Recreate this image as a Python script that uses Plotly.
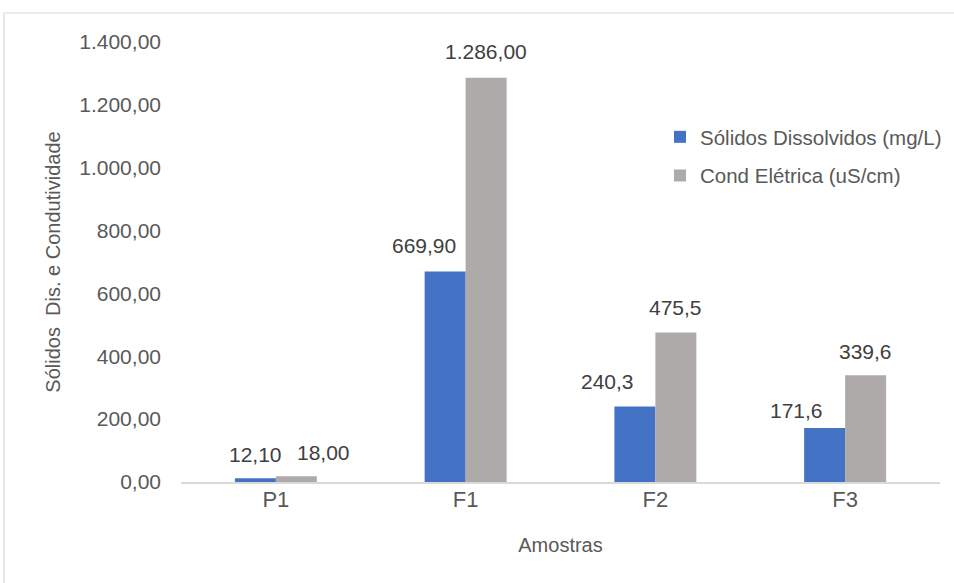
import plotly.graph_objects as go

# Data
amostras = ["P1", "F1", "F2", "F3"]
solidos = [12.10, 669.90, 240.3, 171.6]
condutividade = [18.00, 1286.00, 475.5, 339.6]
casas_decimais = [2, 2, 1, 1]
y_ticks = [0, 200, 400, 600, 800, 1000, 1200, 1400]

AZUL = "#4472C4"
CINZA = "#AEAAAA"
TEXTO = "#595959"
ROTULO = "#404040"

W, H = 954, 583
ML, MR, MT, MB = 181, 14, 42, 101


def fmt_br(v, casas):
    s = f"{v:,.{casas}f}"
    return s.replace(",", "X").replace(".", ",").replace("X", ".")


fig = go.Figure()
fig.add_trace(go.Bar(x=amostras, y=solidos, name="Sólidos Dissolvidos (mg/L)",
                     marker=dict(color=AZUL, line=dict(width=0)),
                     legendgroup="a", hoverinfo="x+y"))
fig.add_trace(go.Bar(x=amostras, y=condutividade, name="Cond Elétrica (uS/cm)",
                     marker=dict(color=CINZA, line=dict(width=0)),
                     legendgroup="b", hoverinfo="x+y"))

# data labels: (extra x nudge in px, height of label centre above bar top)
desloc_sol = [(0, 24), (-21, 26), (-27, 25), (-28, 18)]
desloc_cond = [(27, 24), (0, 26), (0, 25), (0, 24)]
meia_barra = 20.5
anots = []
for i, cat in enumerate(amostras):
    dx, dy = desloc_sol[i]
    anots.append(dict(x=cat, y=solidos[i], text=fmt_br(solidos[i], casas_decimais[i]),
                      xshift=-meia_barra + dx, yshift=dy, showarrow=False,
                      xanchor="center", yanchor="middle",
                      font=dict(family="Liberation Sans", size=21, color=ROTULO)))
    dx, dy = desloc_cond[i]
    anots.append(dict(x=cat, y=condutividade[i], text=fmt_br(condutividade[i], casas_decimais[i]),
                      xshift=meia_barra + dx, yshift=dy, showarrow=False,
                      xanchor="center", yanchor="middle",
                      font=dict(family="Liberation Sans", size=21, color=ROTULO)))

pw = W - ML - MR
ph = H - MT - MB
moldura = dict(type="rect", xref="paper", yref="paper", layer="below",
               x0=(4 - ML) / pw, x1=(W + 10 - ML) / pw,
               y0=-(H + 10 - (H - MB)) / ph, y1=((H - MB) - 13) / ph,
               line=dict(color="#D9D9D9", width=1.2), fillcolor="rgba(0,0,0,0)")

fig.update_layout(
    width=W, height=H,
    margin=dict(l=ML, r=MR, t=MT, b=MB, autoexpand=False),
    paper_bgcolor="white", plot_bgcolor="white",
    separators=",.",
    barmode="group", bargap=0.568, bargroupgap=0,
    font=dict(family="Liberation Sans", color=TEXTO),
    annotations=anots,
    shapes=[moldura],
    legend=dict(x=(660 - ML) / pw, y=((H - MB) - 117) / ph, xanchor="left", yanchor="top",
                font=dict(family="Liberation Sans", size=20.5, color=TEXTO),
                tracegroupgap=9, traceorder="grouped", bgcolor="rgba(0,0,0,0)"),
    xaxis=dict(showline=True, linecolor="#D9D9D9", linewidth=1.5, showgrid=False,
               ticks="", ticklabelstandoff=-3,
               tickfont=dict(family="Liberation Sans", size=22, color=TEXTO),
               title=dict(text="Amostras", standoff=27,
                          font=dict(family="Liberation Sans", size=20, color=TEXTO))),
    yaxis=dict(range=[0, 1400], tickvals=y_ticks, tickformat=",.2f", showgrid=False,
               zeroline=False, showline=False, ticks="", ticklabelstandoff=19,
               tickfont=dict(family="Liberation Sans", size=21, color=TEXTO),
               title=dict(text="Sólidos  Dis. e Condutividade", standoff=13,
                          font=dict(family="Liberation Sans", size=20, color=TEXTO))),
)

fig.write_html("out.html")
